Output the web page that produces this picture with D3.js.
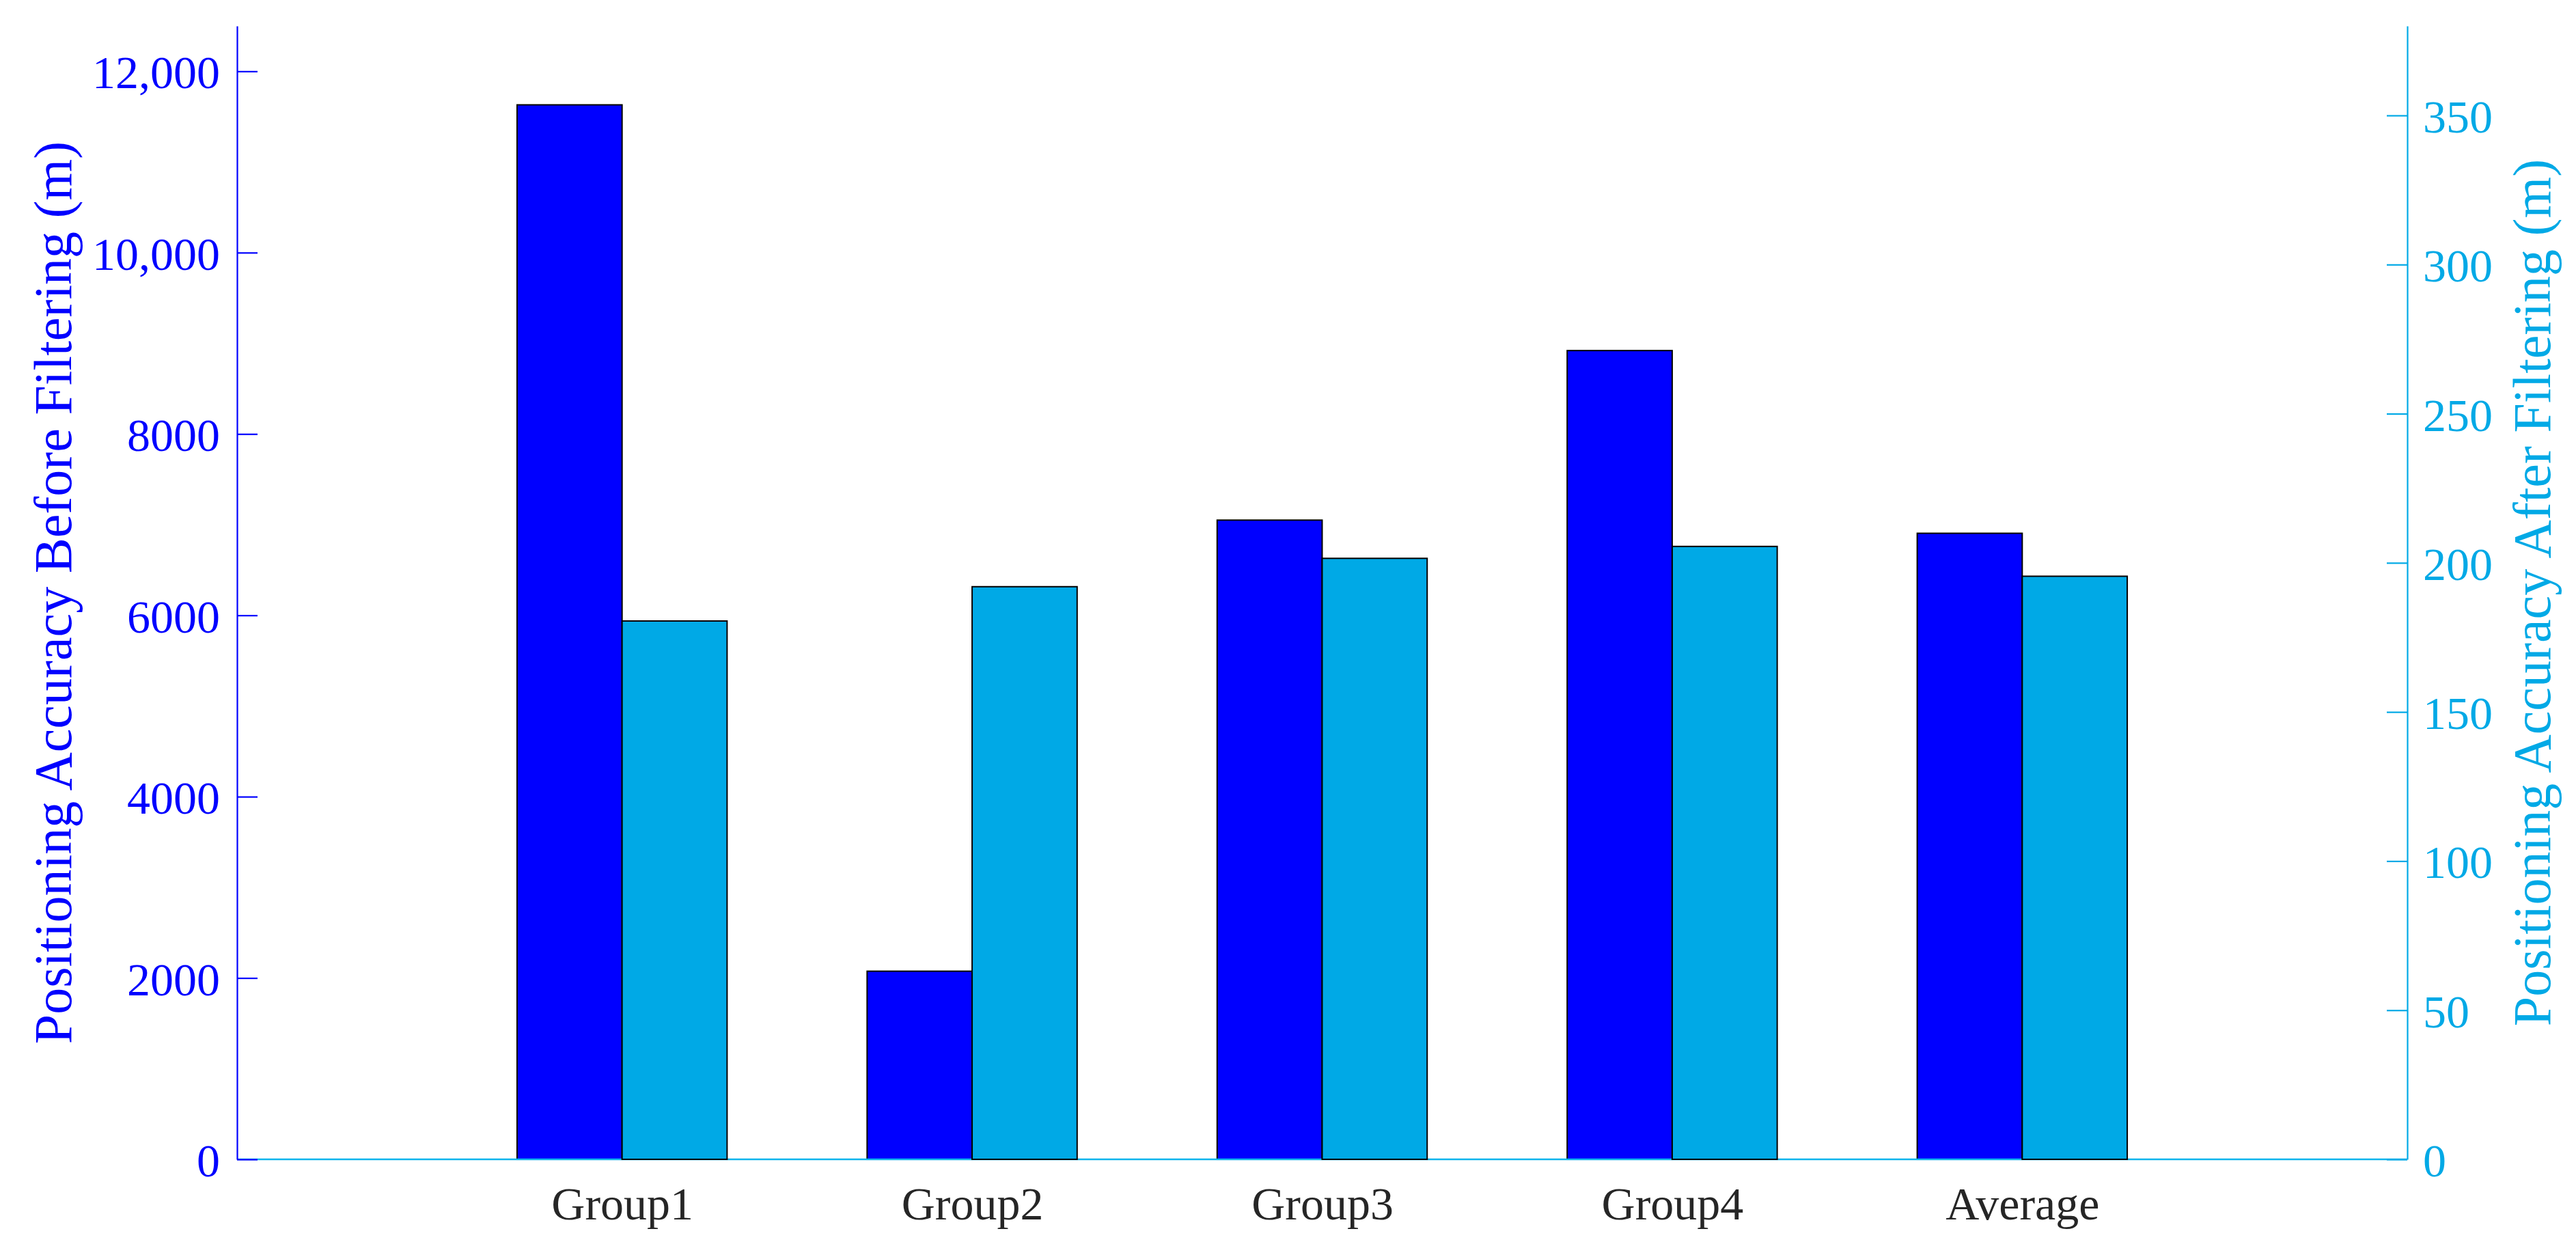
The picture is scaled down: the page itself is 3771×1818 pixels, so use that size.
<!DOCTYPE html>
<html>
<head>
<meta charset="utf-8">
<script src="https://cdn.jsdelivr.net/npm/d3@7"></script>
<style>
  html, body { margin: 0; padding: 0; background: #ffffff; }
  svg { display: block; }
  text { font-family: "Liberation Serif", "Times New Roman", serif; }
</style>
</head>
<body>
<script>
// ---------- data ----------
const categories = ["Group1", "Group2", "Group3", "Group4", "Average"];
const beforeFiltering = [11630, 2075, 7050, 8920, 6905];   // left axis (m)
const afterFiltering  = [180.5, 192, 201.5, 205.5, 195.5]; // right axis (m)
const leftTicks  = [0, 2000, 4000, 6000, 8000, 10000, 12000];
const leftTickLabels = ["0", "2000", "4000", "6000", "8000", "10,000", "12,000"];
const rightTicks = [0, 50, 100, 150, 200, 250, 300, 350];
const leftTitle  = "Positioning Accuracy Before Filtering (m)";
const rightTitle = "Positioning Accuracy After Filtering (m)";

// ---------- layout ----------
const W = 3771, H = 1818;
const plot = { left: 347, right: 3524, top: 38, bottom: 1697 };
const darkBlue = "#0000FF";
const lightBlue = "#00A9E6";

const svg = d3.select("body").append("svg")
  .attr("width", W).attr("height", H)
  .style("background", "#ffffff");

const x = d3.scaleLinear().domain([-0.1, 6.1]).range([plot.left, plot.right]);
const yL = d3.scaleLinear().domain([0, 12500]).range([plot.bottom, plot.top]);
const yR = d3.scaleLinear().domain([0, 380]).range([plot.bottom, plot.top]);
const barW = x(0.3) - x(0);

// dark bars (left axis)
svg.append("g").selectAll("rect").data(beforeFiltering).join("rect")
  .attr("x", (d, i) => x(i + 1) - barW)
  .attr("y", d => yL(d))
  .attr("width", barW)
  .attr("height", d => yL(0) - yL(d))
  .attr("fill", darkBlue)
  .attr("stroke", "#000")
  .attr("stroke-width", 2);

// x axis line
svg.append("line")
  .attr("x1", plot.left).attr("x2", plot.right)
  .attr("y1", plot.bottom).attr("y2", plot.bottom)
  .attr("stroke", "#0BB4EC").attr("stroke-width", 2.5);

// light bars (right axis)
svg.append("g").selectAll("rect").data(afterFiltering).join("rect")
  .attr("x", (d, i) => x(i + 1))
  .attr("y", d => yR(d))
  .attr("width", barW)
  .attr("height", d => yR(0) - yR(d))
  .attr("fill", lightBlue)
  .attr("stroke", "#000")
  .attr("stroke-width", 2);

// left axis
const gL = svg.append("g")
  .attr("transform", `translate(${plot.left},0)`)
  .call(d3.axisLeft(yL).tickValues(leftTicks)
    .tickFormat((d, i) => leftTickLabels[i])
    .tickSize(-30).tickSizeOuter(0).tickPadding(25));
gL.select(".domain").attr("stroke", darkBlue).attr("stroke-width", 2.2);
gL.selectAll(".tick line").attr("stroke", darkBlue).attr("stroke-width", 2.2);
gL.selectAll(".tick text").attr("fill", darkBlue)
  .style("font-size", "68px").attr("dy", "0.36em")
  .style("font-family", "'Liberation Serif', 'Times New Roman', serif");

// right axis
const gR = svg.append("g")
  .attr("transform", `translate(${plot.right},0)`)
  .call(d3.axisRight(yR).tickValues(rightTicks)
    .tickSize(-30).tickSizeOuter(0).tickPadding(23));
gR.select(".domain").attr("stroke", lightBlue).attr("stroke-width", 2.2);
gR.selectAll(".tick line").attr("stroke", lightBlue).attr("stroke-width", 2.2);
gR.selectAll(".tick text").attr("fill", lightBlue)
  .style("font-size", "68px").attr("dy", "0.36em")
  .style("font-family", "'Liberation Serif', 'Times New Roman', serif");

// bottom axis labels
const gX = svg.append("g")
  .attr("transform", `translate(0,${plot.bottom})`)
  .call(d3.axisBottom(x).tickValues(categories.map((c, i) => i + 1))
    .tickFormat((d, i) => categories[i])
    .tickSize(0).tickPadding(40));
gX.select(".domain").remove();
gX.selectAll(".tick text").attr("fill", "#262626")
  .style("font-size", "68px")
  .style("font-family", "'Liberation Serif', 'Times New Roman', serif");

// axis titles
svg.append("text")
  .attr("transform", `translate(104,${(plot.top + plot.bottom) / 2}) rotate(-90)`)
  .attr("text-anchor", "middle")
  .attr("fill", darkBlue)
  .style("font-size", "78px")
  .text(leftTitle);

svg.append("text")
  .attr("transform", `translate(3733,${(plot.top + plot.bottom) / 2}) rotate(-90)`)
  .attr("text-anchor", "middle")
  .attr("fill", lightBlue)
  .style("font-size", "78px")
  .text(rightTitle);
</script>
</body>
</html>
